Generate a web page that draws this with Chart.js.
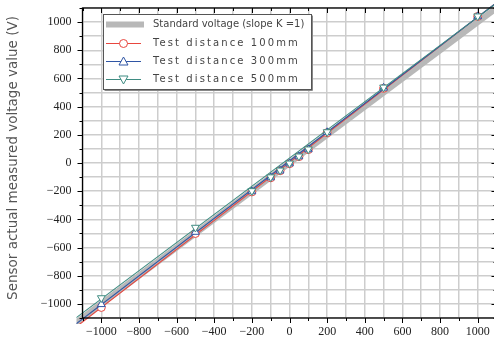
<!DOCTYPE html>
<html><head><meta charset="utf-8">
<script src="https://cdn.jsdelivr.net/npm/chart.js@4"></script>
<style>html,body{margin:0;padding:0;overflow:hidden;background:#fff}#wrap{width:502px;height:341px;position:relative}</style>
</head><body><div id="wrap"><canvas id="c"></canvas></div>
<script>
// ---- data ----
const testX = [-1000, -500, -200, -100, -50, 0, 50, 100, 200, 500, 1000];
const d100 = [-1025, -500, -205, -105, -55, -5, 45, 95, 215, 530, 1040];
const d300 = [-1003, -490, -202, -103, -55, -4, 46, 96, 218, 533, 1040];
const d500 = [-958, -458, -198, -100, -52, -2, 48, 98, 220, 537, 1042];
// straight lines as drawn (end points where they leave the frame)
const lineX = [-1150, 1100];
const std = [-1150, 1100];
const fit100 = [-1180, 1138];
const fit300 = [-1158, 1137];
const fit500 = [-1115, 1135];
const xTicks = [-1000, -800, -600, -400, -200, 0, 200, 400, 600, 800, 1000];
const yTicks = [-1000, -800, -600, -400, -200, 0, 200, 400, 600, 800, 1000];
const legendLabels = ['Standard voltage (slope K =1)', 'Test distance 100mm', 'Test distance 300mm', 'Test distance 500mm'];
const yTitle = 'Sensor actual measured voltage value (V)';

const RED = '#e8463e', BLUE = '#2f55a4', TEAL = '#3f8c82', GRAY = '#b8b8b8';
const TICKFONT = {family: "'Liberation Serif', 'DejaVu Serif', serif", size: 12};
const pts = (xs, ys) => xs.map((x, i) => ({x, y: ys[i]}));
const fmt = v => (v < 0 ? '\u2212' + Math.abs(v) : String(v));

function lineDS(ys, color, w, order) {
  return {type: 'line', data: pts(lineX, ys), borderColor: color, borderWidth: w, pointRadius: 0, clip: 6, order};
}
function markDS(ys, color, style, rot, r, order) {
  return {type: 'scatter', data: pts(testX, ys), showLine: false, pointStyle: style, rotation: rot,
    pointRadius: r, pointBackgroundColor: '#fff', pointBorderColor: color, pointBorderWidth: 1, order};
}

const frame = {
  id: 'frame',
  afterDraw(chart) {
    const {ctx, chartArea: a, scales: {x, y}} = chart;
    ctx.save();
    ctx.strokeStyle = '#000';
    ctx.lineWidth = 1.3;
    ctx.strokeRect(a.left, a.top, a.right - a.left, a.bottom - a.top);
    ctx.lineWidth = 1;
    ctx.beginPath();
    for (let v = -1100; v <= 1100; v += 100) {
      const major = v % 200 === 0;
      const L = major ? 5 : 3;
      const px = Math.round(x.getPixelForValue(v)) + 0.5;
      ctx.moveTo(px, a.bottom); ctx.lineTo(px, a.bottom + L);
      ctx.moveTo(px, a.top); ctx.lineTo(px, a.top + L);
      const py = Math.round(y.getPixelForValue(v)) + 0.5;
      ctx.moveTo(a.left, py); ctx.lineTo(a.left - L, py);
      ctx.moveTo(a.right, py); ctx.lineTo(a.right - L, py);
    }
    ctx.stroke();
    // y title
    ctx.save();
    ctx.translate(13, 158);
    ctx.rotate(-Math.PI / 2);
    ctx.fillStyle = '#555';
    ctx.font = '13.5px "DejaVu Sans"';
    ctx.textAlign = 'center';
    ctx.textBaseline = 'middle';
    ctx.fillText(yTitle, 0, 0);
    ctx.restore();
    // legend
    const bx = 103.5, by = 14.5, bw = 208, bh = 75;
    ctx.fillStyle = '#fff';
    ctx.fillRect(bx, by, bw, bh);
    ctx.strokeStyle = '#555';
    ctx.lineWidth = 1;
    ctx.strokeRect(bx, by, bw, bh);
    ctx.strokeStyle = '#888';
    ctx.beginPath();
    ctx.moveTo(bx + 1, by + bh + 1); ctx.lineTo(bx + bw + 1, by + bh + 1); ctx.lineTo(bx + bw + 1, by + 1);
    ctx.stroke();
    const rows = [24.5, 43.5, 61.5, 79.5];
    const cols = [GRAY, RED, BLUE, TEAL];
    rows.forEach((ry, i) => {
      ctx.strokeStyle = cols[i];
      ctx.lineWidth = i === 0 ? 6 : 1.2;
      ctx.beginPath(); ctx.moveTo(106, ry); ctx.lineTo(i === 0 ? 144 : 141, ry); ctx.stroke();
      ctx.lineWidth = 1;
      ctx.fillStyle = '#fff';
      if (i === 1) { ctx.beginPath(); ctx.arc(123.5, ry, 4, 0, Math.PI * 2); ctx.fill(); ctx.stroke(); }
      if (i === 2) { ctx.beginPath(); ctx.moveTo(123.5, ry - 4.5); ctx.lineTo(128, ry + 3.5); ctx.lineTo(119, ry + 3.5); ctx.closePath(); ctx.fill(); ctx.stroke(); }
      if (i === 3) { ctx.beginPath(); ctx.moveTo(123.5, ry + 4.5); ctx.lineTo(128, ry - 3.5); ctx.lineTo(119, ry - 3.5); ctx.closePath(); ctx.fill(); ctx.stroke(); }
      ctx.fillStyle = '#444';
      ctx.textBaseline = 'middle';
      ctx.font = '10px "DejaVu Sans"';
      ctx.letterSpacing = i === 0 ? '0px' : '2.1px';
      ctx.fillText(legendLabels[i], 153, ry);
    });
    ctx.restore();
  }
};

new Chart(document.getElementById('c'), {
  data: {
    datasets: [
      lineDS(std, GRAY, 6, 10),
      lineDS(fit100, RED, 1.1, 6),
      markDS(d100, RED, 'circle', 0, 4, 5),
      lineDS(fit300, BLUE, 1.1, 4),
      markDS(d300, BLUE, 'triangle', 0, 4.5, 3),
      lineDS(fit500, TEAL, 1.1, 2),
      markDS(d500, TEAL, 'triangle', 180, 4.5, 1)
    ]
  },
  options: {
    responsive: true, maintainAspectRatio: false, animation: false,
    layout: {padding: {top: 8, right: 1, left: 0, bottom: 0}},
    plugins: {legend: {display: false}, tooltip: {enabled: false}},
    scales: {
      x: {
        type: 'linear', min: -1100, max: 1100,
        afterBuildTicks: s => { s.ticks = []; for (let v = -1100; v <= 1100; v += 100) s.ticks.push({value: v}); },
        ticks: {autoSkip: false, maxRotation: 0, padding: 7, color: '#222', font: TICKFONT,
          callback: v => (xTicks.includes(v) ? fmt(v) : '')},
        grid: {color: '#cdcdcd', lineWidth: 1.5, drawTicks: false},
        border: {display: false},
        afterFit: s => { s.height = 23; s.paddingLeft = 0; s.paddingRight = 0; }
      },
      y: {
        type: 'linear', min: -1100, max: 1100,
        afterBuildTicks: s => { s.ticks = []; for (let v = -1100; v <= 1100; v += 100) s.ticks.push({value: v}); },
        ticks: {autoSkip: false, padding: 11, color: '#222', font: TICKFONT,
          callback: v => (yTicks.includes(v) ? fmt(v) : '')},
        grid: {color: '#cdcdcd', lineWidth: 1.5, drawTicks: false},
        border: {display: false},
        afterFit: s => { s.width = 82.5; s.paddingTop = 0; s.paddingBottom = 0; }
      }
    }
  },
  plugins: [frame]
});
</script>
</body></html>
